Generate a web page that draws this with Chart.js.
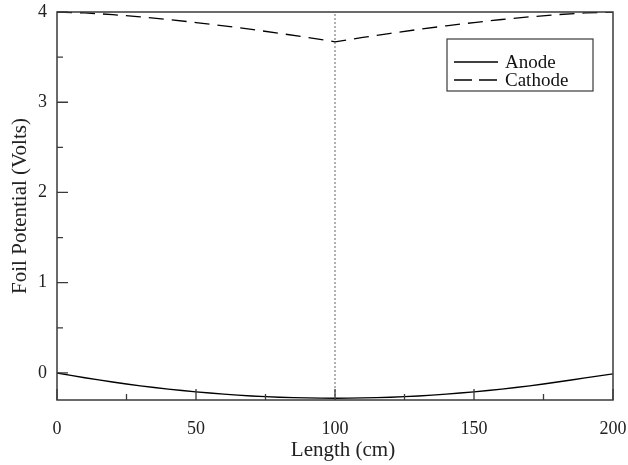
<!DOCTYPE html>
<html>
<head>
<meta charset="utf-8">
<script src="https://cdn.jsdelivr.net/npm/chart.js@4/dist/chart.umd.min.js"></script>
<style>
  html, body { margin: 0; padding: 0; background: #fff; }
  #wrap { width: 628px; height: 465px; }
</style>
</head>
<body>
<div id="wrap"><canvas id="chart" width="628" height="465"></canvas></div>
<script>
"use strict";

// Foil potential along the foil length
const lengths = [0, 10, 20, 30, 40, 50, 60, 70, 80, 90, 100, 110, 120, 130, 140, 150, 160, 170, 180, 190, 200];
const anode = [0, -0.053, -0.101, -0.143, -0.179, -0.21, -0.235, -0.255, -0.269, -0.277, -0.28,
               -0.277, -0.269, -0.255, -0.235, -0.21, -0.179, -0.143, -0.101, -0.055, -0.01];
const cathode = [4.0, 3.99, 3.971, 3.946, 3.917, 3.883, 3.847, 3.807, 3.764, 3.718, 3.67,
                 3.718, 3.764, 3.807, 3.847, 3.883, 3.917, 3.946, 3.971, 3.99, 4.0];
const markerX = 100;
const xTicks = [0, 50, 100, 150, 200];
const yTicks = [0, 1, 2, 3, 4];
const seriesNames = ["Anode", "Cathode"];
const xTitle = "Length (cm)";

const FONT = "'Liberation Serif', 'Times New Roman', serif";
const FRAME = "#3a3a3a";

const toPoints = (xs, ys) => xs.map((x, i) => ({ x, y: ys[i] }));

// frame, inward ticks, x title and boxed legend
const decorations = {
  id: "decorations",
  afterDatasetsDraw(chart) {
    const { ctx, chartArea: a, scales: { x, y } } = chart;
    ctx.save();
    ctx.strokeStyle = FRAME;
    ctx.lineWidth = 1.5;
    ctx.strokeRect(a.left, a.top, a.right - a.left, a.bottom - a.top);

    ctx.lineWidth = 1.3;
    ctx.beginPath();
    for (let v = 0; v <= 200; v += 25) {
      const px = x.getPixelForValue(v);
      const len = v % 50 === 0 ? 11 : 6;
      ctx.moveTo(px, a.bottom);
      ctx.lineTo(px, a.bottom - len);
    }
    for (let v = 0; v <= 4; v += 0.5) {
      const py = y.getPixelForValue(v);
      const len = v % 1 === 0 ? 11 : 6;
      ctx.moveTo(a.left, py);
      ctx.lineTo(a.left + len, py);
    }
    ctx.stroke();

    // x axis title, sits a little right of the plot centre in the original
    ctx.fillStyle = "#222";
    ctx.font = "21px " + FONT;
    ctx.textAlign = "center";
    ctx.textBaseline = "alphabetic";
    ctx.fillText(xTitle, (a.left + a.right) / 2 + 8, 456);

    // legend box
    const bx = 447, by = 39, bw = 146, bh = 52;
    ctx.fillStyle = "#fff";
    ctx.fillRect(bx, by, bw, bh);
    ctx.strokeStyle = FRAME;
    ctx.lineWidth = 1.2;
    ctx.strokeRect(bx, by, bw, bh);
    ctx.font = "19px " + FONT;
    ctx.textAlign = "left";
    ctx.textBaseline = "middle";
    seriesNames.forEach((name, i) => {
      const ly = by + 23 + i * 18;
      ctx.strokeStyle = "#000";
      ctx.lineWidth = 1.3;
      ctx.setLineDash(i === 1 ? [18, 7] : []);
      ctx.beginPath();
      ctx.moveTo(bx + 7, ly);
      ctx.lineTo(bx + 51, ly);
      ctx.stroke();
      ctx.setLineDash([]);
      ctx.fillStyle = "#111";
      ctx.fillText(name, bx + 58, ly + 1);
    });
    ctx.restore();
  }
};

new Chart(document.getElementById("chart"), {
  type: "line",
  data: {
    datasets: [
      {
        label: "marker", data: [{ x: markerX, y: -0.3 }, { x: markerX, y: 4 }],
        borderColor: "#666", borderWidth: 1, borderDash: [2, 2], pointRadius: 0
      },
      {
        label: seriesNames[0], data: toPoints(lengths, anode),
        borderColor: "#000", borderWidth: 1.4, tension: 0.3, pointRadius: 0
      },
      {
        label: seriesNames[1], data: toPoints(lengths, cathode),
        borderColor: "#000", borderWidth: 1.3, borderDash: [15, 8], tension: 0, pointRadius: 0
      }
    ]
  },
  options: {
    responsive: false,
    animation: false,
    layout: { padding: { top: 12, right: 15, left: 0, bottom: 0 } },
    plugins: { legend: { display: false }, tooltip: { enabled: false } },
    scales: {
      x: {
        type: "linear", min: 0, max: 200,
        afterFit: s => { s.height = 65; s.paddingLeft = 0; s.paddingRight = 0; },
        afterBuildTicks: s => { s.ticks = xTicks.map(v => ({ value: v })); },
        grid: { display: false, drawTicks: false },
        border: { display: false },
        ticks: { padding: 18, color: "#222", font: { family: FONT, size: 18 } },
        title: { display: false }
      },
      y: {
        type: "linear", min: -0.3, max: 4,
        afterFit: s => { s.width = 57; s.paddingTop = 0; s.paddingBottom = 0; },
        afterBuildTicks: s => { s.ticks = yTicks.map(v => ({ value: v })); },
        grid: { display: false, drawTicks: false },
        border: { display: false },
        ticks: { padding: 10, color: "#222", font: { family: FONT, size: 18 } },
        title: { display: true, text: "Foil Potential (Volts)", color: "#222", padding: { top: 8, bottom: 0 }, font: { family: FONT, size: 21 } }
      }
    }
  },
  plugins: [decorations]
});
</script>
</body>
</html>
